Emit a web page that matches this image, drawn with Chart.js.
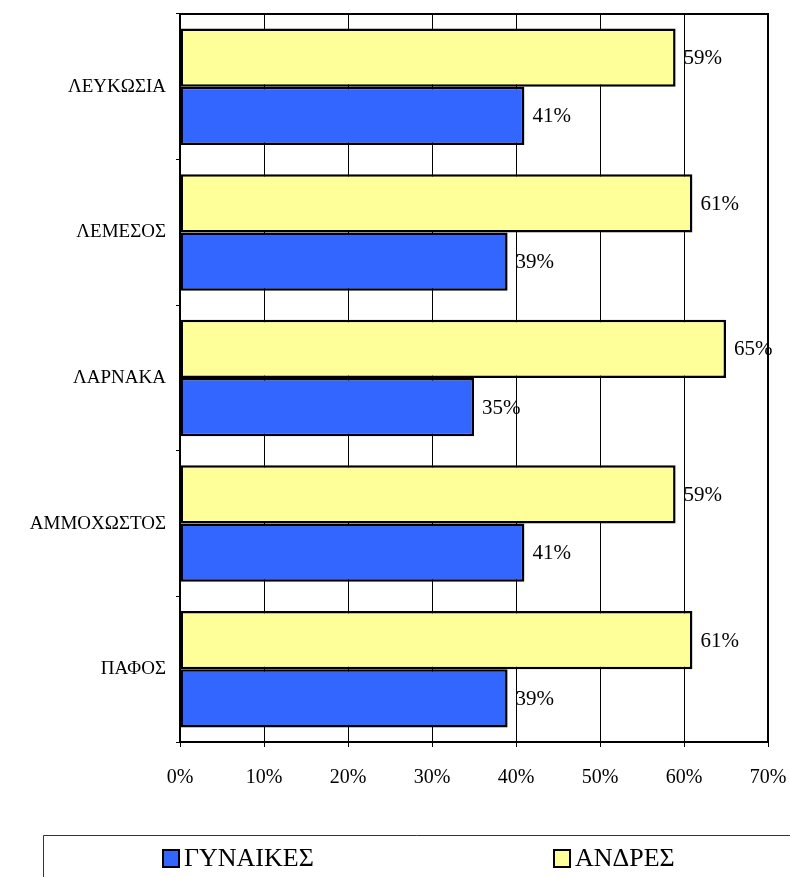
<!DOCTYPE html>
<html>
<head>
<meta charset="utf-8">
<script src="https://cdn.jsdelivr.net/npm/chart.js@4/dist/chart.umd.min.js"></script>
<style>
  html, body { margin: 0; padding: 0; background: #fff; }
  #wrap { width: 790px; height: 877px; }
</style>
</head>
<body>
<div id="wrap"><canvas id="chart" width="790" height="877"></canvas></div>
<script>
// categories and series
const districts = ['ΛΕΥΚΩΣΙΑ', 'ΛΕΜΕΣΟΣ', 'ΛΑΡΝΑΚΑ', 'ΑΜΜΟΧΩΣΤΟΣ', 'ΠΑΦΟΣ'];
const men = [59, 61, 65, 59, 61];
const women = [41, 39, 35, 41, 39];
const legendOrder = ['ΓΥΝΑΙΚΕΣ', 'ΑΝΔΡΕΣ'];

const serif = '"Liberation Serif", "DejaVu Serif", serif';

// value labels to the right of each bar
const valueLabels = {
    id: 'valueLabels',
    afterDatasetsDraw(chart) {
        const ctx = chart.ctx;
        ctx.save();
        ctx.font = '21px ' + serif;
        ctx.fillStyle = '#000';
        ctx.textBaseline = 'middle';
        ctx.textAlign = 'left';
        chart.data.datasets.forEach((ds, i) => {
            chart.getDatasetMeta(i).data.forEach((bar, j) => {
                ctx.fillText(ds.data[j] + '%', bar.x + 8, bar.y + 1);
            });
        });
        ctx.restore();
    }
};

// frame round the plot and the boxed legend below
const frameAndLegend = {
    id: 'frameAndLegend',
    afterDraw(chart) {
        const ctx = chart.ctx;
        const a = chart.chartArea;
        ctx.save();
        ctx.strokeStyle = '#000';
        ctx.lineWidth = 2;
        ctx.strokeRect(a.left, a.top, a.right - a.left, a.bottom - a.top);

        // legend box
        ctx.lineWidth = 1;
        ctx.strokeStyle = '#333';
        ctx.beginPath();
        ctx.moveTo(43.5, 877);
        ctx.lineTo(43.5, 835.5);
        ctx.lineTo(790, 835.5);
        ctx.stroke();

        const xs = [163, 554];
        ctx.font = '26px ' + serif;
        ctx.textBaseline = 'middle';
        ctx.textAlign = 'left';
        legendOrder.forEach((name, k) => {
            const ds = chart.data.datasets.find(d => d.label === name);
            ctx.fillStyle = ds.backgroundColor;
            ctx.fillRect(xs[k], 850, 16, 17);
            ctx.strokeStyle = '#000';
            ctx.lineWidth = 2;
            ctx.strokeRect(xs[k], 850, 16, 17);
            ctx.fillStyle = '#000';
            ctx.fillText(name, xs[k] + 21, 859);
        });
        ctx.restore();
    }
};

const ctx = document.getElementById('chart').getContext('2d');
new Chart(ctx, {
    type: 'bar',
    data: {
        labels: districts,
        datasets: [
            {
                label: 'ΑΝΔΡΕΣ',
                data: men,
                backgroundColor: '#FFFF99',
                borderColor: '#000',
                borderWidth: 2.5,
                borderSkipped: false,
                categoryPercentage: 0.8,
                barPercentage: 1.0
            },
            {
                label: 'ΓΥΝΑΙΚΕΣ',
                data: women,
                backgroundColor: '#3366FF',
                borderColor: '#000',
                borderWidth: 2.5,
                borderSkipped: false,
                categoryPercentage: 0.8,
                barPercentage: 1.0
            }
        ]
    },
    options: {
        indexAxis: 'y',
        responsive: false,
        animation: false,
        layout: { padding: { top: 14, right: 22, left: 0, bottom: 0 } },
        plugins: {
            legend: { display: false },
            tooltip: { enabled: false }
        },
        scales: {
            x: {
                min: 0,
                max: 70,
                ticks: {
                    stepSize: 10,
                    color: '#000',
                    font: { family: serif, size: 20 },
                    padding: 19,
                    maxRotation: 0,
                    callback: v => v + '%'
                },
                grid: { color: '#000', lineWidth: 1, tickLength: 5 },
                border: { display: false },
                afterFit: s => { s.height = 135; s.paddingRight = 0; s.paddingLeft = 0; }
            },
            y: {
                ticks: {
                    color: '#000',
                    font: { family: serif, size: 19 },
                    padding: 10
                },
                grid: { drawOnChartArea: false, color: '#000', tickLength: 4, offset: true },
                border: { display: false },
                afterFit: s => { s.width = 180; s.paddingTop = 0; s.paddingBottom = 0; }
            }
        }
    },
    plugins: [valueLabels, frameAndLegend]
});
</script>
</body>
</html>
